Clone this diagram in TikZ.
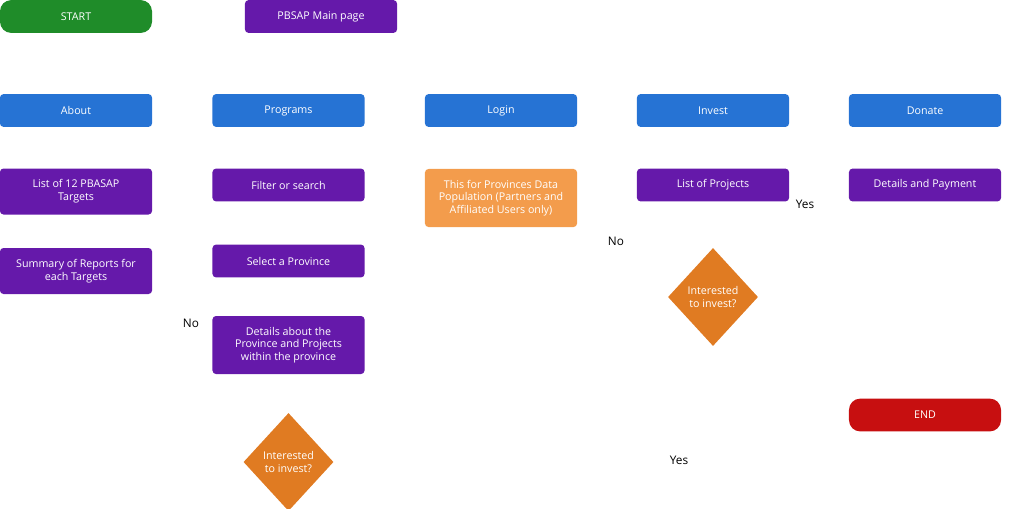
\documentclass[tikz,border=0pt]{standalone}
\usepackage{fontspec}
\setmainfont{Open Sans}
\usepackage{xcolor}
\usetikzlibrary{shapes.geometric}
\definecolor{fgreen}{HTML}{1f8c29}
\definecolor{fpurple}{HTML}{6519aa}
\definecolor{fblue}{HTML}{2673d4}
\definecolor{forange}{HTML}{f39c4c}
\definecolor{fdiamond}{HTML}{e07b22}
\definecolor{fred}{HTML}{c70f10}
\tikzset{
	box/.style={rectangle, rounded corners=2.5pt, text=white, font=\fontsize{7.6}{9}\selectfont, align=center, inner sep=0pt},
	page/.style={box, fill=fblue, minimum width=3.8cm, minimum height=0.82cm},
	task/.style={box, fill=fpurple, minimum width=3.8cm, minimum height=0.82cm},
	term/.style={box, rounded corners=8pt, minimum width=3.8cm, minimum height=0.82cm},
	ask/.style={diamond, fill=fdiamond, text=white, font=\fontsize{7.6}{9}\selectfont, align=center, inner sep=0pt, minimum width=2.25cm, minimum height=2.45cm},
	note/.style={font=\fontsize{8.4}{10}\selectfont, text=black}
}
\begin{document}
\begin{tikzpicture}[x=0.025cm, y=-0.025cm]
	\useasboundingbox (0,0) rectangle (1024,508);
	\node[term, fill=fgreen] (start) at (76,16.5) {START};
	\node[task] (main) at (321,16.5) {PBSAP Main page};
	\node[page] (about) at (76,110.5) {About};
	\node[page] (programs) at (288.5,110.5) {Programs};
	\node[page] (login) at (501,110.5) {Login};
	\node[page] (invest) at (713,110.5) {Invest};
	\node[page] (donate) at (925,110.5) {Donate};
	\node[task, minimum height=1.15cm] (targets) at (76,191.5) {List of 12 PBASAP\\Targets};
	\node[task, minimum height=1.15cm] (summary) at (76,271) {Summary of Reports for\\each Targets};
	\node[task] (filter) at (288.5,185) {Filter or search};
	\node[task] (province) at (288.5,261) {Select a Province};
	\node[task, minimum height=1.45cm] (details) at (288.5,345) {Details about the\\Province and Projects\\within the province};
	\node[box, fill=forange, minimum width=3.8cm, minimum height=1.45cm] (data) at (501,198) {This for Provinces Data\\Population (Partners and\\Affiliated Users only)};
	\node[task] (projects) at (713,185) {List of Projects};
	\node[task] (payment) at (925,185) {Details and Payment};
	\node[ask] (askA) at (288.5,462) {Interested\\to invest?};
	\node[ask] (askB) at (713,297) {Interested\\to invest?};
	\node[term, fill=fred] (end) at (925,415) {END};
	% branch labels
	\node[note] (yesB) at (805,204) {Yes};
	\node[note] (noB) at (616,241) {No};
	\node[note] (noA) at (191,323) {No};
	\node[note] (yesA) at (679,460) {Yes};
\end{tikzpicture}
\end{document}
